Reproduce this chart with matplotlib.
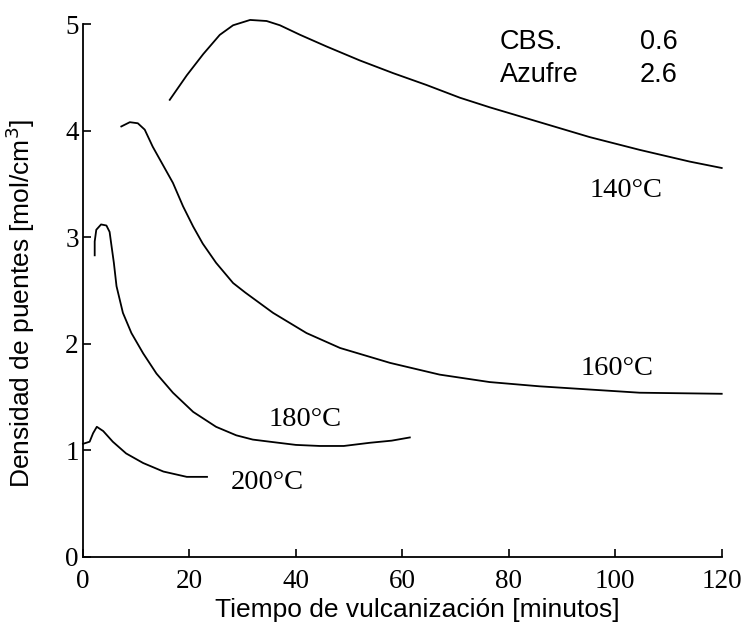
import matplotlib.pyplot as plt

# curves: time [min], density [mol/cm3]
t_140 = [16.3, 19.5, 22.6, 25.7, 28.2, 31.4, 34.5, 37.0, 40.8, 45.8, 52.0, 58.3, 64.5,
         70.8, 76.4, 85.8, 95.2, 104.6, 114.0, 120.0]
d_140 = [4.29, 4.52, 4.72, 4.90, 4.99, 5.04, 5.03, 4.99, 4.90, 4.79, 4.66, 4.54, 4.43,
         4.31, 4.22, 4.08, 3.94, 3.82, 3.71, 3.65]

t_160 = [7.2, 8.8, 10.3, 11.6, 13.1, 15.0, 16.9, 18.8, 20.7, 22.5, 25.0, 28.2, 30.5,
         35.7, 42.0, 48.3, 57.7, 67.0, 76.4, 85.8, 95.2, 104.6, 120.0]
d_160 = [4.04, 4.08, 4.07, 4.01, 3.85, 3.68, 3.51, 3.29, 3.10, 2.94, 2.76, 2.57, 2.48,
         2.29, 2.10, 1.96, 1.82, 1.71, 1.64, 1.60, 1.57, 1.54, 1.53]

t_180 = [2.2, 2.2, 2.5, 3.4, 4.4, 5.0, 5.3, 5.8, 6.3, 7.5, 9.1, 11.3, 13.8, 16.9, 20.7,
         25.0, 28.8, 31.9, 35.1, 40.0, 44.5, 49.0, 53.9, 58.0, 61.4]
d_180 = [2.83, 2.96, 3.07, 3.12, 3.11, 3.05, 2.94, 2.76, 2.54, 2.29, 2.10, 1.91, 1.72, 1.54, 1.36,
         1.22, 1.14, 1.10, 1.08, 1.05, 1.04, 1.04, 1.07, 1.09, 1.12]

t_200 = [0.0, 1.25, 1.9, 2.6, 3.8, 5.6, 8.1, 11.3, 15.1, 19.5, 23.3]
d_200 = [1.06, 1.08, 1.16, 1.22, 1.18, 1.08, 0.97, 0.88, 0.80, 0.75, 0.75]

labels = ['140°C', '160°C', '180°C', '200°C']
label_x = [102.0, 100.3, 41.7, 34.6]
label_y = [3.44, 1.77, 1.29, 0.70]

x_ticks = [0, 20, 40, 60, 80, 100, 120]
y_ticks = [0, 1, 2, 3, 4, 5]

serif = ['Liberation Serif', 'DejaVu Serif']
sans = ['Liberation Sans', 'DejaVu Sans']

fig = plt.figure(figsize=(7.51, 6.37), dpi=100)
ax = fig.add_axes([0.1105, 0.126, 0.8505, 0.836])

for t, d in [(t_140, d_140), (t_160, d_160), (t_180, d_180), (t_200, d_200)]:
    ax.plot(t, d, color='black', lw=1.3, solid_joinstyle='round', clip_on=False)

for lab, lx, ly in zip(labels, label_x, label_y):
    ax.text(lx, ly, lab, ha='center', va='center', fontsize=20.5, family=serif)

# composition note in the upper right
ax.text(78.3, 4.83, 'CBS.', ha='left', va='center', fontsize=19.5, family=sans)
ax.text(78.3, 4.52, 'Azufre', ha='left', va='center', fontsize=19.5, family=sans)
ax.text(104.6, 4.83, '0.6', ha='left', va='center', fontsize=19.5, family=sans)
ax.text(104.6, 4.52, '2.6', ha='left', va='center', fontsize=19.5, family=sans)

ax.set_xlim(0, 120)
ax.set_ylim(0, 5)
ax.set_xticks(x_ticks)
ax.set_yticks(y_ticks)
ax.spines['top'].set_visible(False)
ax.spines['right'].set_visible(False)
ax.spines['left'].set_linewidth(1.3)
ax.spines['bottom'].set_linewidth(1.3)
ax.tick_params(direction='in', length=6, width=1.2, labelsize=19.5)
ax.tick_params(axis='x', pad=9)
ax.tick_params(axis='y', pad=3)
for lab in ax.get_xticklabels() + ax.get_yticklabels():
    lab.set_family(serif)

ax.set_xlabel('Tiempo de vulcanización [minutos]', fontsize=19, family=sans)
ax.set_ylabel('Densidad de puentes [mol/cm$^3$]', fontsize=19, family=sans)
ax.xaxis.set_label_coords(0.524, -0.077)
ax.yaxis.set_label_coords(-0.072, 0.475)

fig.savefig('out.png', dpi=100)
